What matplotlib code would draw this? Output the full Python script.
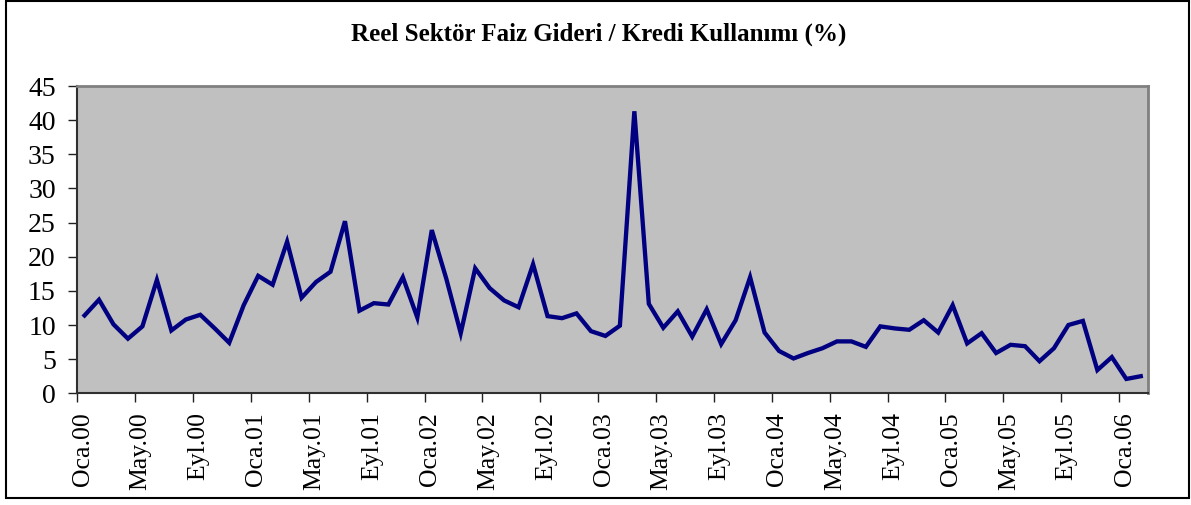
import numpy as np
import matplotlib.pyplot as plt
from matplotlib.patches import Rectangle
from matplotlib.transforms import ScaledTranslation

# Reel sektör faiz gideri / kredi kullanımı, aylık (Oca.00 - Şub.06)
months = ["Oca", "Şub", "Mar", "Nis", "May", "Haz",
          "Tem", "Ağu", "Eyl", "Eki", "Kas", "Ara"]
years = ["00", "01", "02", "03", "04", "05", "06"]

ratio = [11.4, 13.7, 10.1, 8.0, 9.8, 16.6, 9.2, 10.8, 11.5, 9.5, 7.4, 12.9,
         17.2, 15.9, 22.2, 14.0, 16.3, 17.8, 25.2, 12.1, 13.2, 13.0, 17.0, 11.1,
         23.9, 16.8, 8.8, 18.3, 15.4, 13.6, 12.6, 18.9, 11.3, 11.0, 11.7, 9.1,
         8.4, 9.9, 41.3, 13.1, 9.6, 12.0, 8.3, 12.3, 7.2, 10.7, 17.0, 8.9,
         6.2, 5.1, 5.9, 6.6, 7.6, 7.6, 6.8, 9.8, 9.5, 9.3, 10.7, 8.9,
         12.9, 7.3, 8.8, 5.9, 7.1, 6.9, 4.7, 6.6, 10.0, 10.6, 3.4, 5.3,
         2.1, 2.5]

title = "Reel Sektör Faiz Gideri / Kredi Kullanımı (%)"

cats = [m + "." + y for y in years for m in months][:len(ratio)]
x = np.arange(len(ratio))

plt.rcParams['font.family'] = ['Liberation Serif', 'DejaVu Serif']

fig = plt.figure(figsize=(11.91, 5.05), dpi=100)
ax = fig.add_axes([0.0649, 0.2212, 0.899, 0.6085])
ax.set_facecolor("#C0C0C0")

ax.plot(x, ratio, color="#000080", lw=3.1, solid_joinstyle="miter")

ax.set_xlim(-0.5, len(ratio) - 0.5)
ax.set_ylim(0, 45)
ax.set_yticks(np.arange(0, 46, 5))

# Excel tarzı kategori ekseni: etiketler her 4 ayda bir, çizgi aralarında
ticks = np.arange(0, len(ratio), 4)
ax.set_xticks(ticks - 0.5)
ax.set_xticklabels([cats[i] for i in ticks], rotation=90)

ax.tick_params(axis="y", labelsize=20, length=6.5, width=1, pad=9, color="#202020")
ax.tick_params(axis="x", labelsize=18.5, length=6.5, width=1, pad=7, color="#202020")

# etiketleri biraz sağa kaydır
shift = ScaledTranslation(4 / 72, 0, fig.dpi_scale_trans)
for lbl in ax.get_xticklabels():
    lbl.set_transform(lbl.get_transform() + shift)

for s in ["top", "right"]:
    ax.spines[s].set_color("#808080")
    ax.spines[s].set_linewidth(2)
for s in ["left", "bottom"]:
    ax.spines[s].set_color("#303030")
    ax.spines[s].set_linewidth(1.5)

fig.text(599 / 1191, 1 - 40.7 / 505, title, ha="center", va="baseline",
         fontsize=18, fontweight="bold")

# dış çerçeve
fig.patches.append(Rectangle((6 / 1191, 7 / 505), 1183 / 1191, 497 / 505,
                             transform=fig.transFigure, fill=False,
                             edgecolor="black", lw=1.5))

fig.savefig("out.png", dpi=100, facecolor="white")
